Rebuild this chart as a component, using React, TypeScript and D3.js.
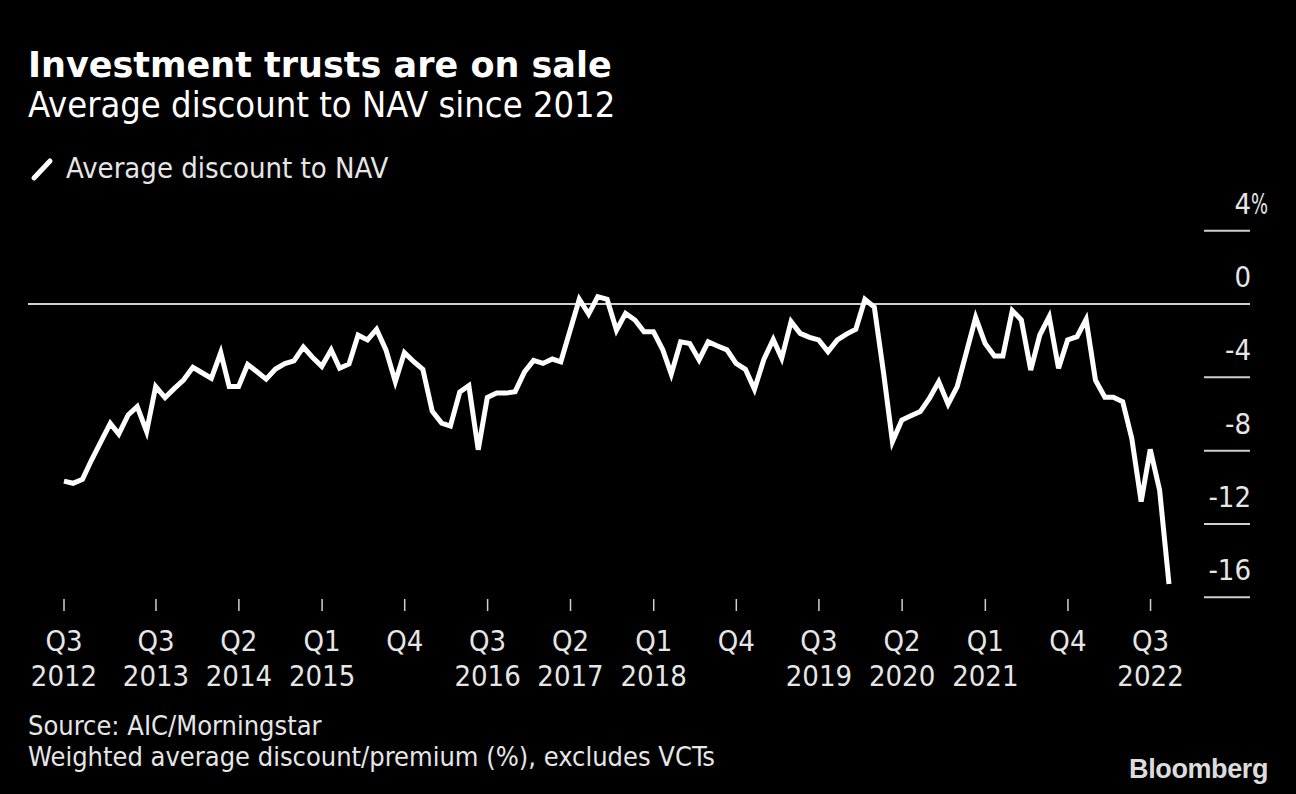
import React from "react";
import * as d3 from "d3";

// Monthly average discount to NAV (%), Aug 2012 .. Aug 2022 (month ends)
const START_MONTH = new Date(2012, 7, 1);
const values2012 = [-9.66, -9.78, -9.56, -8.51, -7.51];
const values2013 = [-6.51, -7.1, -6.05, -5.6, -6.95, -4.5, -5.1, -4.6, -4.15, -3.45, -3.75, -4.05];
const values2014 = [-2.65, -4.5, -4.5, -3.3, -3.7, -4.1, -3.55, -3.25, -3.1, -2.35, -2.9, -3.4];
const values2015 = [-2.5, -3.5, -3.27, -1.7, -1.96, -1.38, -2.5, -4.24, -2.65, -3.15, -3.56, -5.85];
const values2016 = [-6.5, -6.66, -4.8, -4.45, -7.95, -5.1, -4.86, -4.86, -4.78, -3.7, -3.08, -3.24];
const values2017 = [-3.0, -3.15, -1.42, 0.26, -0.55, 0.4, 0.26, -1.43, -0.51, -0.87, -1.51, -1.51];
const values2018 = [-2.5, -3.82, -2.06, -2.15, -3.05, -2.06, -2.29, -2.5, -3.24, -3.56, -4.65, -3.02];
const values2019 = [-1.93, -2.96, -0.96, -1.6, -1.82, -1.96, -2.6, -1.96, -1.64, -1.38, 0.26, -0.16];
const values2020 = [-3.8, -7.51, -6.33, -6.1, -5.87, -5.15, -4.24, -5.46, -4.51, -2.6, -0.73, -2.15];
const values2021 = [-2.84, -2.84, -0.36, -0.87, -3.6, -1.69, -0.69, -3.51, -1.96, -1.78, -0.84, -4.15];
const values2022 = [-5.09, -5.09, -5.33, -7.33, -10.78, -7.93, -10.15, -15.28];

const allValues = [
  ...values2012, ...values2013, ...values2014, ...values2015, ...values2016, ...values2017,
  ...values2018, ...values2019, ...values2020, ...values2021, ...values2022,
];

// x-axis ticks
const xTickDates = [
  "2012-08-31", "2013-07-01", "2014-04-01", "2015-01-01", "2015-10-01", "2016-07-01", "2017-04-01",
  "2018-01-01", "2018-10-01", "2019-07-01", "2020-04-01", "2021-01-01", "2021-10-01", "2022-07-01",
];
const xTickQuarters = ["Q3", "Q3", "Q2", "Q1", "Q4", "Q3", "Q2", "Q1", "Q4", "Q3", "Q2", "Q1", "Q4", "Q3"];
const xTickYears = ["2012", "2013", "2014", "2015", "", "2016", "2017", "2018", "", "2019", "2020", "2021", "", "2022"];

// y-axis ticks
const yTicks = [4, 0, -4, -8, -12, -16];

const FONT = "'DejaVu Sans Condensed', 'DejaVu Sans', sans-serif";
const COND = { fontStretch: "condensed" } as React.CSSProperties;

function parseDate(s: string) {
  const [y, m, d] = s.split("-").map(Number);
  return new Date(y, m - 1, d);
}

export default function App() {
  const width = 1296;
  const height = 794;

  const data = allValues.map((v, i) => ({
    date: d3.timeDay.offset(d3.timeMonth.offset(START_MONTH, i + 1), -1),
    value: v,
  }));

  const x = d3
    .scaleTime()
    .domain([data[0].date, data[data.length - 1].date])
    .range([64, 1169]);
  const y = d3.scaleLinear().domain([-16, 4]).range([597.3, 230.7]);

  const line = d3
    .line<{ date: Date; value: number }>()
    .x((d) => x(d.date))
    .y((d) => y(d.value));

  const textColor = "#e6e6e6";

  return (
    <div>
      <style>{`body{margin:0;background:#000;}`}</style>
      <svg width={width} height={height} style={{ display: "block", background: "#000" }}>
        <rect x={0} y={0} width={width} height={height} fill="#000" />
        {/* title */}
        <text x={28} y={77} fill="#fff" fontFamily="'DejaVu Sans', sans-serif" fontWeight="bold" fontSize={35}>
          Investment trusts are on sale
        </text>
        <text x={28} y={117} fill="#fff" fontFamily={FONT} fontSize={36} style={COND}>
          Average discount to NAV since 2012
        </text>
        {/* legend */}
        <line x1={34} y1={178} x2={50} y2={161} stroke="#fff" strokeWidth={5} strokeLinecap="round" />
        <text x={66} y={178} fill={textColor} fontFamily={FONT} fontSize={29} style={COND}>
          Average discount to NAV
        </text>

        {/* y ticks */}
        {yTicks.map((t) => (
          <g key={t}>
            <line
              x1={t === 0 ? 28 : 1204}
              x2={1250}
              y1={y(t)}
              y2={y(t)}
              stroke="#d0d0d0"
              strokeWidth={2}
            />
            <text
              x={1251}
              y={y(t) - 17}
              fill={textColor}
              fontFamily={FONT}
              fontSize={29}
              textAnchor="end"
              style={COND}
            >
              {t}
            </text>
            {t === 4 && (
              <text
                x={1251}
                y={y(t) - 17}
                fill={textColor}
                fontFamily={FONT}
                fontSize={28}
                style={COND}
                textLength={17}
                lengthAdjust="spacingAndGlyphs"
              >
                %
              </text>
            )}
          </g>
        ))}

        {/* x ticks */}
        {xTickDates.map((s, i) => {
          const xx = x(parseDate(s));
          return (
            <g key={s}>
              <line x1={xx} x2={xx} y1={599} y2={611} stroke="#d0d0d0" strokeWidth={1.5} />
              <text x={xx} y={651} fill={textColor} fontFamily={FONT} fontSize={29} textAnchor="middle" style={COND}>
                {xTickQuarters[i]}
              </text>
              {xTickYears[i] && (
                <text x={xx} y={686} fill={textColor} fontFamily={FONT} fontSize={29} textAnchor="middle" style={COND}>
                  {xTickYears[i]}
                </text>
              )}
            </g>
          );
        })}

        {/* data line */}
        <path d={line(data) || ""} fill="none" stroke="#fff" strokeWidth={5} strokeLinejoin="miter" strokeMiterlimit={4} />

        {/* footer */}
        <text x={28} y={735} fill={textColor} fontFamily={FONT} fontSize={27} style={COND}>
          Source: AIC/Morningstar
        </text>
        <text x={28} y={766} fill={textColor} fontFamily={FONT} fontSize={27} style={COND}>
          Weighted average discount/premium (%), excludes VCTs
        </text>
        <text
          x={1268}
          y={778}
          fill="#dcdcdc"
          fontFamily="'Liberation Sans', Arial, sans-serif"
          fontWeight="bold"
          fontSize={27}
          textAnchor="end"
          letterSpacing={-0.4}
        >
          Bloomberg
        </text>
      </svg>
    </div>
  );
}
